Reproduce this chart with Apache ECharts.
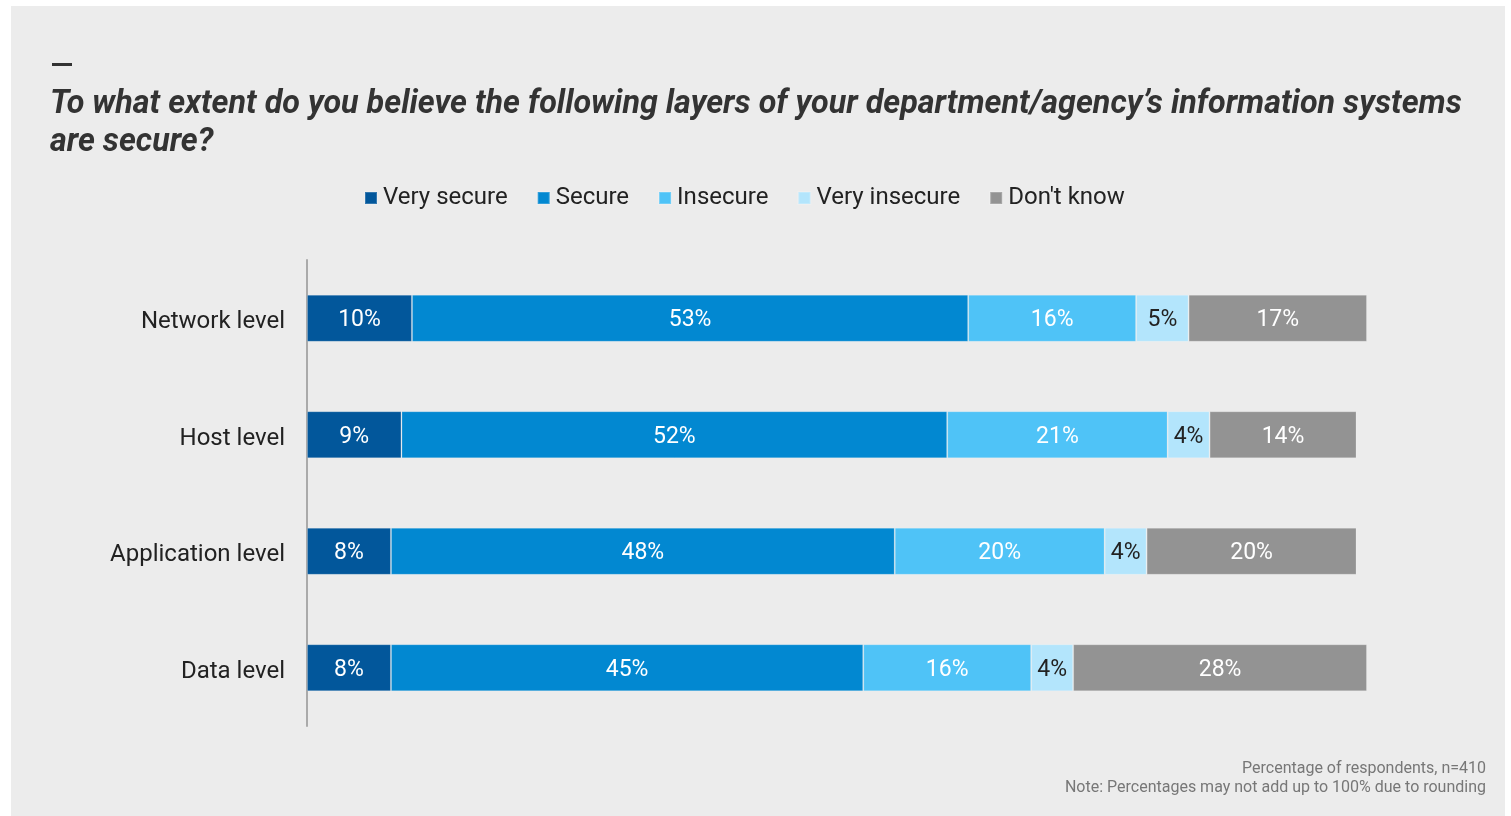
<!DOCTYPE html>
<html>
<head>
<meta charset="utf-8">
<script src="https://cdn.jsdelivr.net/npm/echarts@6/dist/echarts.min.js"></script>
<style>
  html, body { margin: 0; padding: 0; background: #ffffff; }
  #chart { width: 1511px; height: 816px; }
</style>
</head>
<body>
<div id="chart"></div>
<script>
// Survey layers (top to bottom) and the share of respondents per answer
const categories = ['Network level', 'Host level', 'Application level', 'Data level'];
const seriesNames = ['Very secure', 'Secure', 'Insecure', 'Very insecure', "Don't know"];
const verySecure = [10, 9, 8, 8];
const secure = [53, 52, 48, 45];
const insecure = [16, 21, 20, 16];
const veryInsecure = [5, 4, 4, 4];
const dontKnow = [17, 14, 20, 28];

const seriesValues = [verySecure, secure, insecure, veryInsecure, dontKnow];
const colors = ['#02579b', '#0288d1', '#4fc3f7', '#b3e5fc', '#939393'];
const labelColors = ['#ffffff', '#ffffff', '#ffffff', '#222222', '#ffffff'];

const FONT = 'Roboto, "Noto Sans", sans-serif';

const chart = echarts.init(document.getElementById('chart'), null, { renderer: 'canvas' });

const series = seriesNames.map((name, i) => ({
  name: name,
  type: 'bar',
  stack: 'total',
  barWidth: 47,
  data: seriesValues[i],
  itemStyle: {
    color: colors[i],
    borderColor: 'rgba(255,255,255,0.2)',
    borderWidth: 1
  },
  label: {
    show: true,
    position: 'inside',
    offset: [0, 2],
    formatter: '{c}%',
    color: labelColors[i],
    fontFamily: FONT,
    fontSize: 23
  },
  emphasis: { disabled: true }
}));

chart.setOption({
  animation: false,
  backgroundColor: '#ffffff',
  graphic: [
    {
      type: 'rect',
      z: -10,
      shape: { x: 11, y: 6, width: 1494, height: 812 },
      style: { fill: '#ececec' }
    },
    {
      type: 'rect',
      shape: { x: 52, y: 63, width: 20, height: 3 },
      style: { fill: '#333333' }
    },
    {
      type: 'text',
      x: 50,
      y: 86,
      style: {
        text: 'To what extent do you believe the following layers of your department/agency\u2019s information systems\nare secure?',
        font: 'italic bold 32.3px ' + FONT,
        fill: '#333333',
        lineHeight: 38
      }
    },
    {
      type: 'text',
      x: 1486,
      y: 761,
      style: {
        text: 'Percentage of respondents, n=410',
        font: '16px ' + FONT,
        fill: '#777777',
        align: 'right'
      }
    },
    {
      type: 'text',
      x: 1486,
      y: 780,
      style: {
        text: 'Note: Percentages may not add up to 100% due to rounding',
        font: '16px ' + FONT,
        fill: '#777777',
        align: 'right'
      }
    }
  ],
  legend: {
    left: 364,
    top: 186,
    padding: 0,
    itemWidth: 12,
    itemHeight: 12,
    itemGap: 29,
    icon: 'rect',
    selectedMode: false,
    data: seriesNames,
    textStyle: {
      fontFamily: FONT,
      fontSize: 24,
      color: '#222222',
      padding: [0, 0, 0, 1]
    }
  },
  grid: {
    left: 307,
    right: 144,
    top: 260,
    bottom: 90,
    containLabel: false
  },
  xAxis: {
    type: 'value',
    min: 0,
    max: 101,
    show: false
  },
  yAxis: {
    type: 'category',
    data: categories,
    inverse: true,
    axisLine: { show: true, lineStyle: { color: '#aaaaaa', width: 2 } },
    axisTick: { show: false },
    axisLabel: {
      margin: 22,
      fontFamily: FONT,
      fontSize: 24,
      color: '#222222',
      verticalAlign: 'top',
      lineHeight: 8
    }
  },
  series: series
});
</script>
</body>
</html>
